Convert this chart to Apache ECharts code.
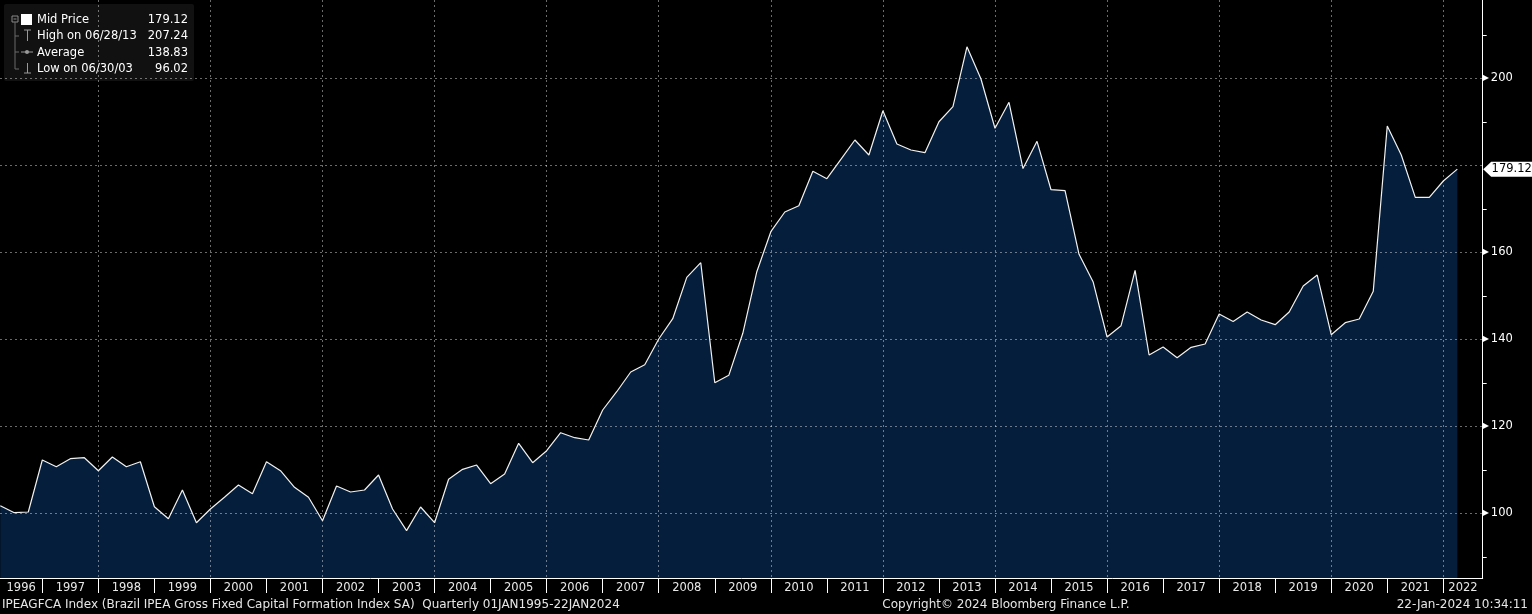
<!DOCTYPE html>
<html>
<head>
<meta charset="utf-8">
<script src="https://cdn.jsdelivr.net/npm/echarts@6/dist/echarts.min.js"></script>
<style>
html, body { margin: 0; padding: 0; background: #000; }
#chart { width: 1532px; height: 614px; }
</style>
</head>
<body>
<div id="chart"></div>
<script>
// quarterly series, first point = Q1 1996
const firstYear = 1996;
const firstQuarter = 1;
const values = [
  101.75, 100.14, 100.30, 112.25, 110.71, 112.55, 112.78, 109.79, 112.94, 110.71,
  111.86, 101.52, 98.76, 105.36, 97.84, 100.99, 103.68, 106.51, 104.51, 111.86,
  109.79, 105.98, 103.68, 98.30, 106.28, 104.90, 105.36, 108.80, 100.99, 96.02,
  101.45, 97.84, 107.82, 110.11, 111.10, 106.80, 109.03, 116.09, 111.63, 114.39,
  118.53, 117.38, 116.85, 123.75, 127.95, 132.48, 134.16, 140.07, 144.74, 154.25,
  157.61, 130.02, 131.72, 141.38, 155.54, 164.74, 169.26, 170.71, 178.62, 176.92,
  181.38, 185.82, 182.37, 192.55, 184.90, 183.52, 182.90, 190.02, 193.47, 207.24,
  199.84, 188.51, 194.48, 179.26, 185.52, 174.39, 174.16, 159.54, 153.24, 140.53,
  143.13, 155.86, 136.39, 138.23, 135.77, 138.16, 138.92, 145.82, 144.09, 146.28,
  144.44, 143.36, 146.28, 152.25, 154.78, 141.06, 143.82, 144.67, 151.03, 189.03,
  182.37, 172.64, 172.64, 176.39, 179.12
];
const majorTicks = [100, 120, 140, 160, 180, 200];
const minorTicks = [90, 110, 130, 150, 170, 190, 210];
const yearTicks = [1997, 1998, 1999, 2000, 2001, 2002, 2003, 2004, 2005, 2006, 2007, 2008, 2009,
  2010, 2011, 2012, 2013, 2014, 2015, 2016, 2017, 2018, 2019, 2020, 2021, 2022];
const avgText = "138.83";

const xMin = 1996.245, xMax = 2022.703;
const yMin = 85.13, yMax = 218.0;

// quarter-end positions in decimal years
const data = values.map((v, i) => {
  const q = firstQuarter - 1 + i;
  return [firstYear + Math.floor(q / 4) + ((q % 4) + 1) / 4, v];
});
const last = values[values.length - 1];
const hi = Math.max(...values), lo = Math.min(...values);
const hiIdx = values.indexOf(hi), loIdx = values.indexOf(lo);

function qDate(i) {
  const q = firstQuarter - 1 + i;
  const y = firstYear + Math.floor(q / 4), qq = q % 4;
  const md = ["03/31", i === hiIdx ? "06/28" : "06/30", "09/30", "12/31"][qq];
  return md + "/" + String(y).slice(2);
}

const gridYears = yearTicks.filter(y => y % 2 === 0);
const yearLabelPos = [(xMin + yearTicks[0]) / 2]
  .concat(yearTicks.slice(0, -1).map(y => y + 0.5))
  .concat([(yearTicks[yearTicks.length - 1] + xMax) / 2]);
// the last-value tag hides the axis label it sits on
const yLabelValues = majorTicks.filter(v => Math.abs(v - last) > 4);

const FONT = "DejaVu Sans";
const gridLine = { show: true, lineStyle: { color: "rgba(255,255,255,0.42)", type: [2, 3], width: 1 } };

const legendRows = [
  ["Mid Price", last.toFixed(2)],
  ["High on " + qDate(hiIdx), hi.toFixed(2)],
  ["Average", avgText],
  ["Low on " + qDate(loIdx), lo.toFixed(2)]
];

const graphics = [
  { type: "rect", shape: { x: 4, y: 4, width: 190, height: 77, r: 2 }, style: { fill: "#111" } },
  // tree box
  { type: "rect", shape: { x: 12, y: 16, width: 6, height: 6 }, style: { fill: "none", stroke: "#8a8a8a", lineWidth: 1 } },
  { type: "line", shape: { x1: 13.5, y1: 19, x2: 16.5, y2: 19 }, style: { stroke: "#8a8a8a" } },
  { type: "line", shape: { x1: 15, y1: 22, x2: 15, y2: 69 }, style: { stroke: "#6a6a6a" } },
  { type: "line", shape: { x1: 15, y1: 36, x2: 19, y2: 36 }, style: { stroke: "#6a6a6a" } },
  { type: "line", shape: { x1: 15, y1: 52, x2: 19, y2: 52 }, style: { stroke: "#6a6a6a" } },
  { type: "line", shape: { x1: 15, y1: 69, x2: 19, y2: 69 }, style: { stroke: "#6a6a6a" } },
  { type: "rect", shape: { x: 21, y: 14, width: 11, height: 11 }, style: { fill: "#fff" } },
  // high icon
  { type: "line", shape: { x1: 24, y1: 30, x2: 31, y2: 30 }, style: { stroke: "#9a9a9a" } },
  { type: "line", shape: { x1: 27.5, y1: 30, x2: 27.5, y2: 41 }, style: { stroke: "#9a9a9a" } },
  // average icon
  { type: "line", shape: { x1: 21, y1: 52, x2: 33, y2: 52 }, style: { stroke: "#9a9a9a" } },
  { type: "circle", shape: { cx: 27, cy: 52, r: 2 }, style: { fill: "#9a9a9a" } },
  // low icon
  { type: "line", shape: { x1: 27.5, y1: 63, x2: 27.5, y2: 73 }, style: { stroke: "#9a9a9a" } },
  { type: "line", shape: { x1: 24, y1: 73, x2: 31, y2: 73 }, style: { stroke: "#9a9a9a" } }
];
legendRows.forEach((r, i) => {
  const y = 20 + i * 16.3;
  graphics.push({ type: "text", x: 37, y: y, style: { text: r[0], fill: "#fff", font: "11.5px '" + FONT + "'", textVerticalAlign: "middle" } });
  graphics.push({ type: "text", x: 188, y: y, style: { text: r[1], fill: "#fff", font: "11.5px '" + FONT + "'", textAlign: "right", textVerticalAlign: "middle" } });
});
graphics.push(
  { type: "text", x: 2, y: 605, style: { text: "IPEAGFCA Index (Brazil IPEA Gross Fixed Capital Formation Index SA)  Quarterly 01JAN1995-22JAN2024", fill: "#e6e6e6", font: "12px '" + FONT + "'", textVerticalAlign: "middle" } },
  { type: "text", x: 1006, y: 605, style: { text: "Copyright\u00a9 2024 Bloomberg Finance L.P.", fill: "#e6e6e6", font: "12px '" + FONT + "'", textAlign: "center", textVerticalAlign: "middle" } },
  { type: "text", x: 1528, y: 605, style: { text: "22-Jan-2024 10:34:11", fill: "#e6e6e6", font: "12px '" + FONT + "'", textAlign: "right", textVerticalAlign: "middle" } }
);

const chart = echarts.init(document.getElementById("chart"));
chart.setOption({
  backgroundColor: "#000",
  animation: false,
  grid: { left: 0, right: 49.3, top: 0, bottom: 36, outerBoundsMode: "none" },
  xAxis: [
    {
      type: "value", min: xMin, max: xMax,
      axisLine: { show: true, onZero: false, lineStyle: { color: "#fff", width: 1 } },
      axisTick: { show: true, customValues: yearTicks, length: 15, lineStyle: { color: "#fff" } },
      axisLabel: { customValues: yearLabelPos, formatter: v => String(Math.floor(v)), color: "#e8e8e8", fontFamily: FONT, fontSize: 11.5, margin: 4 },
      splitLine: { show: false }
    },
    {
      type: "value", min: xMin, max: xMax, z: 3,
      axisLine: { show: false },
      axisTick: { show: false, customValues: gridYears },
      axisLabel: { show: false },
      splitLine: gridLine
    }
  ],
  yAxis: [
    {
      type: "value", position: "right", min: yMin, max: yMax,
      axisLine: { show: true, onZero: false, lineStyle: { color: "#fff", width: 1 } },
      axisTick: { show: false, customValues: majorTicks },
      axisLabel: {
        customValues: yLabelValues, margin: 0,
        formatter: v => "{t|\u25B6}{v|" + v + "}",
        rich: {
          t: { fontFamily: FONT, fontSize: 8, color: "#fff", padding: [0, 2, 0, 0] },
          v: { fontFamily: FONT, fontSize: 11.5, color: "#fff" }
        }
      },
      splitLine: { show: false }
    },
    {
      type: "value", position: "right", min: yMin, max: yMax, z: 3,
      axisLine: { show: false },
      axisTick: { show: false, customValues: majorTicks },
      axisLabel: { show: false },
      splitLine: gridLine
    },
    {
      type: "value", position: "right", min: yMin, max: yMax,
      axisLine: { show: false },
      axisTick: { show: true, customValues: minorTicks, length: 4, lineStyle: { color: "#fff" } },
      axisLabel: { show: false },
      splitLine: { show: false }
    }
  ],
  series: [
    {
      type: "line", data: data, z: 2, showSymbol: false,
      lineStyle: { opacity: 0 },
      areaStyle: { color: "#051e3b", opacity: 1, origin: "start" }
    },
    {
      type: "line", data: data, zlevel: 1, z: 4, showSymbol: false,
      lineStyle: { color: "#f2f2f2", width: 1.2 },
      markPoint: {
        symbol: "path://M0,7L8,0L49,0L49,14L8,14Z",
        symbolSize: [49, 15],
        symbolKeepAspect: false,
        symbolOffset: [25, 0],
        itemStyle: { color: "#fff" },
        label: { show: true, color: "#000", fontFamily: FONT, fontSize: 11.5, offset: [4, 0], formatter: p => p.value.toFixed(2) },
        data: [{ coord: [xMax, last], value: last }]
      }
    }
  ],
  graphic: graphics
});
</script>
</body>
</html>
